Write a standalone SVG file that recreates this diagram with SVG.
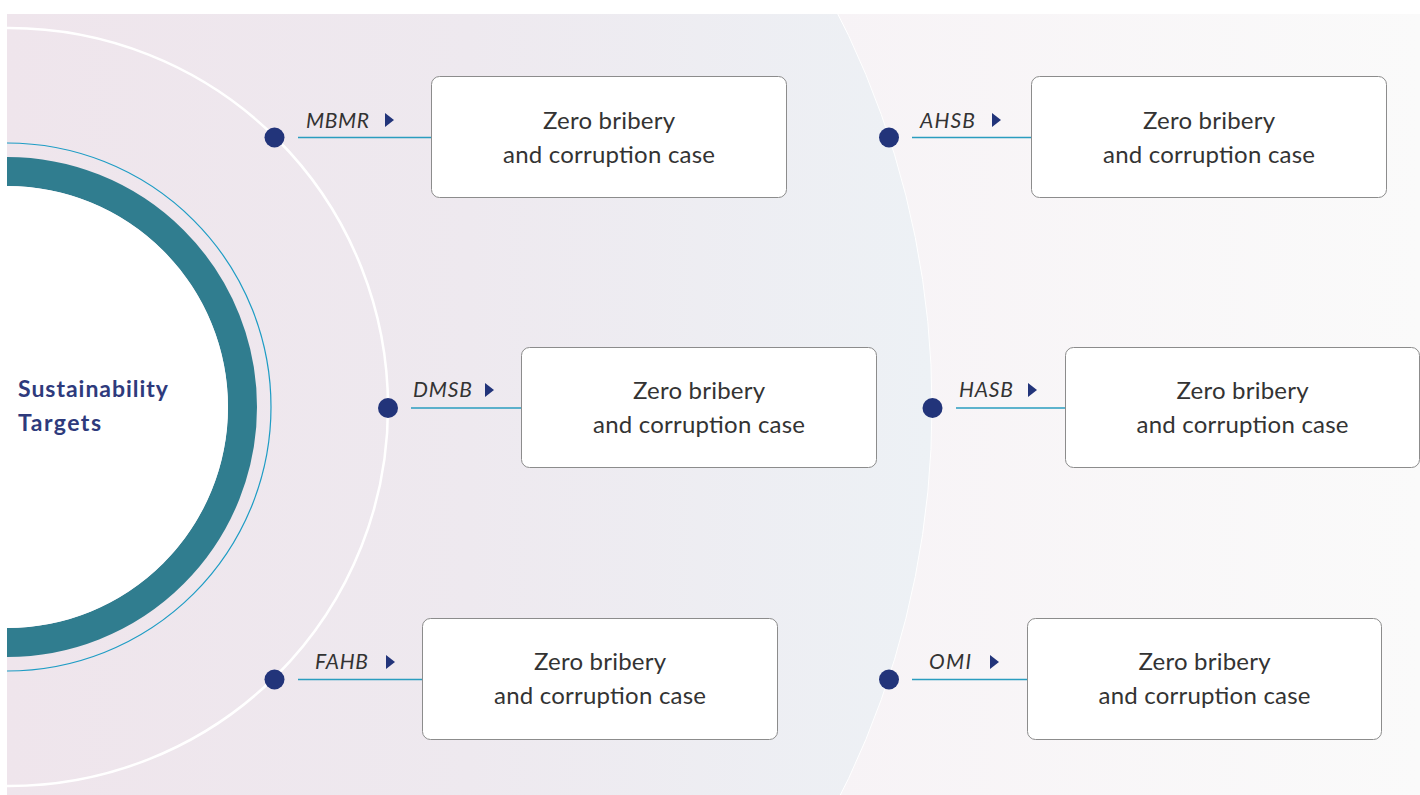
<svg xmlns="http://www.w3.org/2000/svg" width="1420" height="795" viewBox="0 0 1420 795">
  <defs>
    <linearGradient id="innerBg" x1="7" y1="0" x2="930" y2="0" gradientUnits="userSpaceOnUse">
      <stop offset="0" stop-color="#efe5ec"/>
      <stop offset="0.5" stop-color="#eee9ef"/>
      <stop offset="1" stop-color="#edf1f5"/>
    </linearGradient>
    <linearGradient id="outerBg" x1="830" y1="0" x2="1420" y2="0" gradientUnits="userSpaceOnUse">
      <stop offset="0" stop-color="#f7f3f6"/>
      <stop offset="1" stop-color="#fafafa"/>
    </linearGradient>
    <clipPath id="panel">
      <rect x="7" y="14" width="1413" height="781"/>
    </clipPath>
    <style>
      .box { fill: #ffffff; stroke: #8c8c8c; stroke-width: 1; }
      .txt { font-family: Lato, "Open Sans", sans-serif; font-size: 24px; fill: #333333; text-anchor: middle; }
      .lbl { font-family: Lato, "Open Sans", sans-serif; font-size: 21px; font-style: italic; fill: #333333; }
      .dot { fill: #22347a; }
      .tri { fill: #22347a; }
      .link { stroke: #2a9dbf; stroke-width: 1.3; fill: none; }
      .title { font-family: Lato, "Open Sans", sans-serif; font-size: 23px; font-weight: bold; fill: #2e3a7c; }
    </style>
  </defs>

  <rect x="0" y="0" width="1420" height="795" fill="#ffffff"/>

  <!-- background panel with concentric arcs -->
  <g id="background" clip-path="url(#panel)">
    <rect x="7" y="14" width="1413" height="781" fill="url(#outerBg)"/>
    <circle cx="63" cy="407" r="869" fill="url(#innerBg)" stroke="#ffffff" stroke-width="1"/>
    <circle cx="9" cy="407" r="379" fill="none" stroke="#ffffff" stroke-width="2.5"/>
  </g>

  <!-- central hub -->
  <g id="hub" clip-path="url(#panel)">
    <circle cx="7" cy="407" r="264" fill="none" stroke="#1d9cc4" stroke-width="1.2"/>
    <circle cx="7" cy="407" r="235.5" fill="none" stroke="#307d8f" stroke-width="29"/>
    <circle cx="7" cy="407" r="221" fill="#ffffff"/>
    <text class="title" x="18" y="397" textLength="150">Sustainability</text>
    <text class="title" x="18" y="431" textLength="83">Targets</text>
  </g>

  <!-- connectors from the arc dots to the target boxes -->
  <g id="connectors">
    <line class="link" x1="298" y1="137.5" x2="431.5" y2="137.5"/>
    <line class="link" x1="411" y1="408" x2="521.5" y2="408"/>
    <line class="link" x1="298" y1="679.5" x2="422.5" y2="679.5"/>
    <line class="link" x1="912" y1="137.5" x2="1031.5" y2="137.5"/>
    <line class="link" x1="956" y1="408" x2="1065.5" y2="408"/>
    <line class="link" x1="912" y1="679.5" x2="1027.5" y2="679.5"/>
  </g>

  <g id="mbmr">
    <circle class="dot" cx="274.5" cy="137.5" r="10"/>
    <text class="lbl" x="306" y="128" textLength="63">MBMR</text>
    <polygon class="tri" points="385,113 394,120 385,127"/>
    <rect class="box" x="431.5" y="76.5" width="355" height="121" rx="8"/>
    <text class="txt" x="609" y="129" textLength="132">Zero bribery</text>
    <text class="txt" x="609" y="163" textLength="212">and corruption case</text>
  </g>

  <g id="dmsb">
    <circle class="dot" cx="388" cy="408" r="10"/>
    <text class="lbl" x="413" y="397" textLength="59">DMSB</text>
    <polygon class="tri" points="485,383 494,390 485,397"/>
    <rect class="box" x="521.5" y="347.5" width="355" height="120" rx="8"/>
    <text class="txt" x="699" y="399" textLength="132">Zero bribery</text>
    <text class="txt" x="699" y="433" textLength="212">and corruption case</text>
  </g>

  <g id="fahb">
    <circle class="dot" cx="274.5" cy="679.5" r="10"/>
    <text class="lbl" x="315" y="669" textLength="53">FAHB</text>
    <polygon class="tri" points="386,655 395,662 386,669"/>
    <rect class="box" x="422.5" y="618.5" width="355" height="121" rx="8"/>
    <text class="txt" x="600" y="670" textLength="132">Zero bribery</text>
    <text class="txt" x="600" y="704" textLength="212">and corruption case</text>
  </g>

  <g id="ahsb">
    <circle class="dot" cx="889" cy="137.5" r="10"/>
    <text class="lbl" x="920" y="128" textLength="55">AHSB</text>
    <polygon class="tri" points="992,113 1001,120 992,127"/>
    <rect class="box" x="1031.5" y="76.5" width="355" height="121" rx="8"/>
    <text class="txt" x="1209" y="129" textLength="132">Zero bribery</text>
    <text class="txt" x="1209" y="163" textLength="212">and corruption case</text>
  </g>

  <g id="hasb">
    <circle class="dot" cx="932.5" cy="408" r="10"/>
    <text class="lbl" x="959" y="397" textLength="54">HASB</text>
    <polygon class="tri" points="1028,383 1037,390 1028,397"/>
    <rect class="box" x="1065.5" y="347.5" width="354" height="120" rx="8"/>
    <text class="txt" x="1242.5" y="399" textLength="132">Zero bribery</text>
    <text class="txt" x="1242.5" y="433" textLength="212">and corruption case</text>
  </g>

  <g id="omi">
    <circle class="dot" cx="889" cy="679.5" r="10"/>
    <text class="lbl" x="929" y="669" textLength="42">OMI</text>
    <polygon class="tri" points="990,655 999,662 990,669"/>
    <rect class="box" x="1027.5" y="618.5" width="354" height="121" rx="8"/>
    <text class="txt" x="1204.5" y="670" textLength="132">Zero bribery</text>
    <text class="txt" x="1204.5" y="704" textLength="212">and corruption case</text>
  </g>
</svg>
